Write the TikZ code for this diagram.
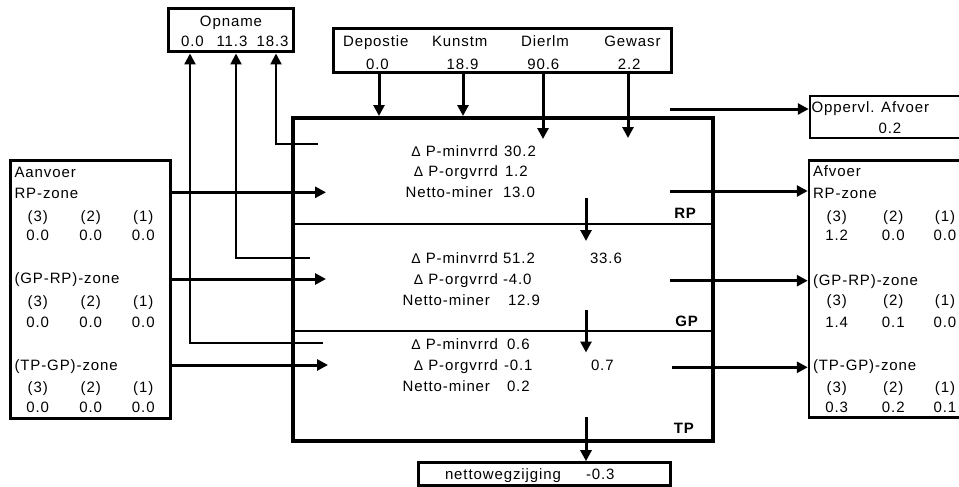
\documentclass[tikz,border=0pt]{standalone}
\usepackage{fontspec}
\usetikzlibrary{arrows.meta}
\newfontfamily\diafont{Liberation Sans}[LetterSpace=6]
\newcommand{\deltasym}{{\fontsize{14}{14}\selectfont Δ}}

\tikzset{
  txt/.style={inner sep=0pt, outer sep=0pt, font=\diafont\fontsize{15}{18}\selectfont},
  lbl/.style={txt, anchor=base east},
  val/.style={txt, anchor=base west},
  ctr/.style={txt, anchor=base},
  lft/.style={txt, anchor=base west},
  layer/.style={txt, anchor=base east, font=\diafont\bfseries\fontsize{15}{18}\selectfont},
  rect/.style={draw, line width=3pt, inner sep=0pt, rectangle},
  flow/.style={line width=3pt, -{Triangle[length=11pt,width=11pt]}},
  uptake/.style={line width=2.2pt, -{Triangle[length=11pt,width=11pt]}},
  divider/.style={line width=2pt}
}

\begin{document}
\begin{tikzpicture}[x=1pt,y=-1pt]
\useasboundingbox (0,0) rectangle (959,487);
\clip (0,0) rectangle (959,487);

% ---- boxes ----
\node[rect, line width=4pt, minimum width=420pt, minimum height=323pt] (main) at (503,279.5) {};
\node[rect, minimum width=125pt, minimum height=43pt] (opn) at (230.5,30.5) {};
\node[rect, minimum width=338pt, minimum height=44pt] (dep) at (502,51) {};
\node[rect, line width=2.5pt, minimum width=190pt, minimum height=42pt] (opp) at (905,117) {};
\node[rect, minimum width=159.3pt, minimum height=257.6pt] (aan) at (90.35,289.5) {};
\node[rect, line width=2.5pt, minimum width=191pt, minimum height=256.6pt] (afv) at (904.5,289) {};
\node[rect, minimum width=252.4pt, minimum height=22.3pt] (net) at (544.5,473.85) {};

% layer dividers inside the soil column
\draw[divider] (main.west |- 0,224) -- (main.east |- 0,224);
\draw[divider] (main.west |- 0,331) -- (main.east |- 0,331);

% ---- uptake lines to Opname ----
\coordinate (u1) at (318,144);
\coordinate (u2) at (310,258.3);
\coordinate (u3) at (323,343);
\draw[uptake] (u1) -| (opn.south -| 276,0);
\draw[uptake] (u2) -| (opn.south -| 236,0);
\draw[uptake] (u3) -| (opn.south -| 190,0);

% ---- inputs from the top ----
\coordinate (dl) at (543,139);
\coordinate (gw) at (628,138);
\draw[flow] (dep.south -| 379,0) -- (main.north -| 379,0);
\draw[flow] (dep.south -| 463,0) -- (main.north -| 463,0);
\draw[flow] (dep.south -| 543,0) -- (dl);
\draw[flow] (dep.south -| 628,0) -- (gw);

% ---- surface runoff ----
\coordinate (ov) at (670,109);
\draw[flow] (ov) -- (opp.west |- ov);

% ---- lateral inflow ----
\coordinate (aRP) at (326,192.3);
\coordinate (aGP) at (326,279);
\coordinate (aTP) at (328,365);
\draw[flow] (aan.east |- aRP) -- (aRP);
\draw[flow] (aan.east |- aGP) -- (aGP);
\draw[flow] (aan.east |- aTP) -- (aTP);

% ---- lateral outflow ----
\coordinate (fRP) at (670,191);
\coordinate (fGP) at (670,280.7);
\coordinate (fTP) at (671.7,367.3);
\draw[flow] (fRP) -- (afv.west |- fRP);
\draw[flow] (fGP) -- (afv.west |- fGP);
\draw[flow] (fTP) -- (afv.west |- fTP);

% ---- vertical transport between layers ----
\coordinate (v1a) at (586,198);
\coordinate (v1b) at (586,241);
\coordinate (v2a) at (586,310);
\coordinate (v2b) at (586,352.5);
\coordinate (v3a) at (586,417);
\draw[flow] (v1a) -- (v1b);
\draw[flow] (v2a) -- (v2b);
\draw[flow] (v3a) -- (net.north -| v3a);

% ---- Opname ----
\node[ctr] (opnT) at (231,26.5) {Opname};
\node[ctr] (opn1) at (192.5,46.7) {0.0};
\node[ctr] (opn2) at (232,46.7) {11.3};
\node[ctr] (opn3) at (272.5,46.7) {18.3};

% ---- inputs ----
\node[ctr] (depT1) at (375.8,46.7) {Depostie};
\node[ctr] (depT2) at (459.7,46.7) {Kunstm};
\node[ctr] (depT3) at (545,46.7) {Dierlm};
\node[ctr] (depT4) at (632.5,46.7) {Gewasr};
\node[ctr] (depV1) at (377.5,69.3) {0.0};
\node[ctr] (depV2) at (462.5,69.3) {18.9};
\node[ctr] (depV3) at (543.3,69.3) {90.6};
\node[ctr] (depV4) at (629.2,69.3) {2.2};

% ---- Oppervl. Afvoer ----
\node[lft] (oppT) at (811.5,112) {Oppervl. Afvoer};
\node[ctr] (oppV) at (890,133.3) {0.2};

% ---- layer balances ----
\node[lbl] (rp1) at (498,156) {\deltasym\ P-minvrrd};
\node[val] (rp1v) at (504,156) {30.2};
\node[lbl] (rp2) at (498,176.7) {\deltasym\ P-orgvrrd};
\node[val] (rp2v) at (505,176.7) {1.2};
\node[lbl] (rp3) at (493,197.3) {Netto-miner};
\node[val] (rp3v) at (503,197.3) {13.0};
\node[layer] (rpL) at (696,218.3) {RP};

\node[lbl] (gp1) at (498,263.3) {\deltasym\ P-minvrrd};
\node[val] (gp1v) at (503,263.3) {51.2};
\node[val] (gp1x) at (590,263.3) {33.6};
\node[lbl] (gp2) at (498,284.3) {\deltasym\ P-orgvrrd};
\node[val] (gp2v) at (503,284.3) {-4.0};
\node[lbl] (gp3) at (490,305) {Netto-miner};
\node[val] (gp3v) at (508,305) {12.9};
\node[layer] (gpL) at (698,326.7) {GP};

\node[lbl] (tp1) at (498,349.3) {\deltasym\ P-minvrrd};
\node[val] (tp1v) at (507,349.3) {0.6};
\node[lbl] (tp2) at (498,370) {\deltasym\ P-orgvrrd};
\node[val] (tp2v) at (504,370) {-0.1};
\node[val] (tp2x) at (591,370) {0.7};
\node[lbl] (tp3) at (490,391.7) {Netto-miner};
\node[val] (tp3v) at (507,391.7) {0.2};
\node[layer] (tpL) at (694,433.3) {TP};

% ---- nettowegzijging ----
\node[lft] (netT) at (445,479.3) {nettowegzijging};
\node[lft] (netV) at (586,479.3) {-0.3};

% ---- Aanvoer ----
\node[lft] (aanT) at (14.5,177.3) {Aanvoer};
\node[lft] (aanZ1) at (14.5,198.3) {RP-zone};
\node[ctr] (aanA1) at (37.7,221.7) {(3)};
\node[ctr] (aanB1) at (90.7,221.7) {(2)};
\node[ctr] (aanC1) at (143.3,221.7) {(1)};
\node[ctr] (aanA1v) at (37.7,240.7) {0.0};
\node[ctr] (aanB1v) at (90.7,240.7) {0.0};
\node[ctr] (aanC1v) at (143.3,240.7) {0.0};
\node[lft] (aanZ2) at (14.5,283.3) {(GP-RP)-zone};
\node[ctr] (aanA2) at (37.7,306) {(3)};
\node[ctr] (aanB2) at (90.7,306) {(2)};
\node[ctr] (aanC2) at (143.3,306) {(1)};
\node[ctr] (aanA2v) at (37.7,327.7) {0.0};
\node[ctr] (aanB2v) at (90.7,327.7) {0.0};
\node[ctr] (aanC2v) at (143.3,327.7) {0.0};
\node[lft] (aanZ3) at (14.5,370) {(TP-GP)-zone};
\node[ctr] (aanA3) at (37.7,392.7) {(3)};
\node[ctr] (aanB3) at (90.7,392.7) {(2)};
\node[ctr] (aanC3) at (143.3,392.7) {(1)};
\node[ctr] (aanA3v) at (37.7,412.7) {0.0};
\node[ctr] (aanB3v) at (90.7,412.7) {0.0};
\node[ctr] (aanC3v) at (143.3,412.7) {0.0};

% ---- Afvoer ----
\node[lft] (afvT) at (813,176.7) {Afvoer};
\node[lft] (afvZ1) at (813,198.3) {RP-zone};
\node[ctr] (afvA1) at (836.7,221.7) {(3)};
\node[ctr] (afvB1) at (893.3,221.7) {(2)};
\node[ctr] (afvC1) at (945,221.7) {(1)};
\node[ctr] (afvA1v) at (836.7,240.7) {1.2};
\node[ctr] (afvB1v) at (893.3,240.7) {0.0};
\node[ctr] (afvC1v) at (945,240.7) {0.0};
\node[lft] (afvZ2) at (813,285) {(GP-RP)-zone};
\node[ctr] (afvA2) at (836.7,305.5) {(3)};
\node[ctr] (afvB2) at (893.3,305.5) {(2)};
\node[ctr] (afvC2) at (945,305.5) {(1)};
\node[ctr] (afvA2v) at (836.7,327) {1.4};
\node[ctr] (afvB2v) at (893.3,327) {0.1};
\node[ctr] (afvC2v) at (945,327) {0.0};
\node[lft] (afvZ3) at (813,370.5) {(TP-GP)-zone};
\node[ctr] (afvA3) at (836.7,392) {(3)};
\node[ctr] (afvB3) at (893.3,392) {(2)};
\node[ctr] (afvC3) at (945,392) {(1)};
\node[ctr] (afvA3v) at (836.7,412) {0.3};
\node[ctr] (afvB3v) at (893.3,412) {0.2};
\node[ctr] (afvC3v) at (945,412) {0.1};
\end{tikzpicture}
\end{document}
